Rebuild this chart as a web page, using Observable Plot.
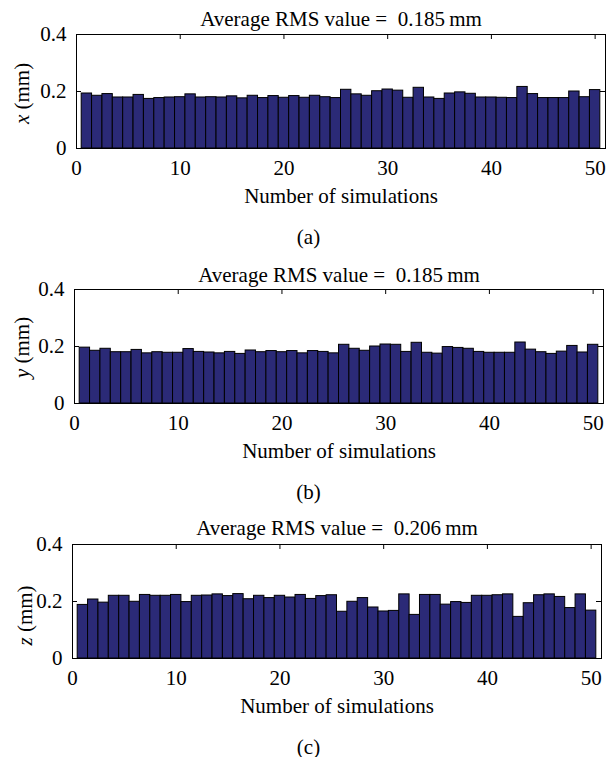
<!DOCTYPE html>
<html><head><meta charset="utf-8">
<script src="https://cdn.jsdelivr.net/npm/d3@7"></script>
<script src="https://cdn.jsdelivr.net/npm/@observablehq/plot@0.6"></script>
<style>
body{margin:0;background:#fff}
#chart{width:615px;height:757px;position:relative;overflow:hidden}
.panel{position:absolute;left:0}
#chart svg, #chart svg text{font-family:"Liberation Serif", serif !important;font-size:21px}
</style>
</head><body><div id="chart"></div>
<script>
const simulations = [1,2,3,4,5,6,7,8,9,10,11,12,13,14,15,16,17,18,19,20,21,22,23,24,25,
  26,27,28,29,30,31,32,33,34,35,36,37,38,39,40,41,42,43,44,45,46,47,48,49,50];
const xRms = [0.193,0.185,0.191,0.179,0.179,0.188,0.174,0.177,0.179,0.180,
  0.190,0.179,0.180,0.179,0.183,0.176,0.185,0.177,0.184,0.178,
  0.184,0.178,0.185,0.180,0.177,0.206,0.190,0.185,0.201,0.207,
  0.203,0.178,0.213,0.179,0.174,0.193,0.197,0.192,0.179,0.179,
  0.178,0.177,0.216,0.191,0.177,0.177,0.177,0.200,0.180,0.205];
const yRms = [0.196,0.185,0.192,0.180,0.180,0.188,0.176,0.180,0.178,0.178,
  0.191,0.181,0.179,0.176,0.181,0.174,0.186,0.180,0.184,0.180,
  0.184,0.176,0.184,0.181,0.176,0.206,0.192,0.185,0.200,0.207,
  0.206,0.181,0.213,0.178,0.175,0.198,0.195,0.192,0.181,0.178,
  0.178,0.178,0.214,0.189,0.180,0.174,0.182,0.202,0.179,0.206];
const zRms = [0.188,0.207,0.196,0.220,0.220,0.199,0.223,0.220,0.220,0.223,
  0.198,0.220,0.221,0.225,0.219,0.226,0.208,0.220,0.212,0.220,
  0.214,0.223,0.209,0.219,0.222,0.164,0.199,0.212,0.179,0.165,
  0.167,0.225,0.153,0.223,0.223,0.189,0.198,0.195,0.220,0.220,
  0.222,0.225,0.146,0.194,0.222,0.225,0.216,0.177,0.225,0.168];
const averages = ["0.185", "0.185", "0.206"];
const axisNames = ["x", "y", "z"];
const captions = ["(a)", "(b)", "(c)"];
const xTicks = [0, 10, 20, 30, 40, 50];
const yTicks = [0, 0.2, 0.4];
const xLabel = "Number of simulations";

const FONT = "Liberation Serif";
const BAR = "#2b2a77";

const layouts = [
  {top: 0,   left: 76, right: 605, titleDy: -9,  labelDx: -54, labelDy: 2},
  {top: 255, left: 74, right: 603, titleDy: -8,  labelDx: -52, labelDy: 1},
  {top: 510, left: 72, right: 601, titleDy: -10, labelDx: -47, labelDy: 14}
];
const series = [xRms, yRms, zRms];

const chart = document.getElementById("chart");
const W = 615, H = 255, MT = 34, FH = 114;

series.forEach((values, k) => {
  const L = layouts[k];
  const data = simulations.map((s, i) => ({s, v: values[i]}));
  const fw = L.right - L.left;
  const title = `Average RMS value =  ${averages[k]}\u2009mm`;
  const yLab = `${axisNames[k]} (mm)`;
  const svg = Plot.plot({
    width: W, height: H,
    marginLeft: L.left, marginRight: W - L.right, marginTop: MT, marginBottom: H - MT - FH,
    style: {fontFamily: FONT, fontSize: "21px", color: "#000", background: "transparent", overflow: "visible"},
    x: {domain: [0, 51]},
    y: {domain: [0, 0.4]},
    marks: [
      Plot.rectY(data, {x1: d => d.s - 0.5, x2: d => d.s + 0.5, y: "v", fill: BAR, stroke: "#000", strokeWidth: 1}),
      Plot.tickX(xTicks, {x: d => d, insetBottom: FH - 5, stroke: "#000"}),
      Plot.tickY(yTicks, {y: d => d, insetRight: fw - 5, stroke: "#000"}),
      Plot.tickY(yTicks, {y: d => d, insetLeft: fw - 5, stroke: "#000"}),
      Plot.frame({stroke: "#000", strokeWidth: 1}),
      Plot.axisX({ticks: xTicks, tickSize: 0, tickPadding: 12, label: null, tickFormat: d3.format("d"), fill: "#000"}),
      Plot.axisY({ticks: yTicks, tickSize: 0, tickPadding: 10, label: null,
        tickFormat: d => d === 0 ? "0" : d3.format(".1f")(d), fill: "#000"}),
      Plot.text([title], {text: d => d, frameAnchor: "top", lineAnchor: "bottom", dy: L.titleDy, fill: "#000"}),
      Plot.text([xLabel], {text: d => d, frameAnchor: "bottom", lineAnchor: "bottom", dy: 54, fill: "#000"}),
      Plot.text([captions[k]], {text: d => d, frameAnchor: "bottom", lineAnchor: "bottom", dy: 95,
        dx: 308 - (L.left + L.right) / 2, fill: "#000"}),
      Plot.text([yLab], {text: d => d, frameAnchor: "left", rotate: -90, lineAnchor: "middle", textAnchor: "middle",
        dx: L.labelDx, dy: L.labelDy, fill: "#000"})
    ]
  });
  d3.select(svg).selectAll("text").filter(function() { return this.textContent === yLab; })
    .html(`<tspan font-style="italic">${axisNames[k]}</tspan> (mm)`);
  const div = document.createElement("div");
  div.className = "panel";
  div.style.top = L.top + "px";
  div.appendChild(svg);
  chart.appendChild(div);
});
</script>
</body></html>
